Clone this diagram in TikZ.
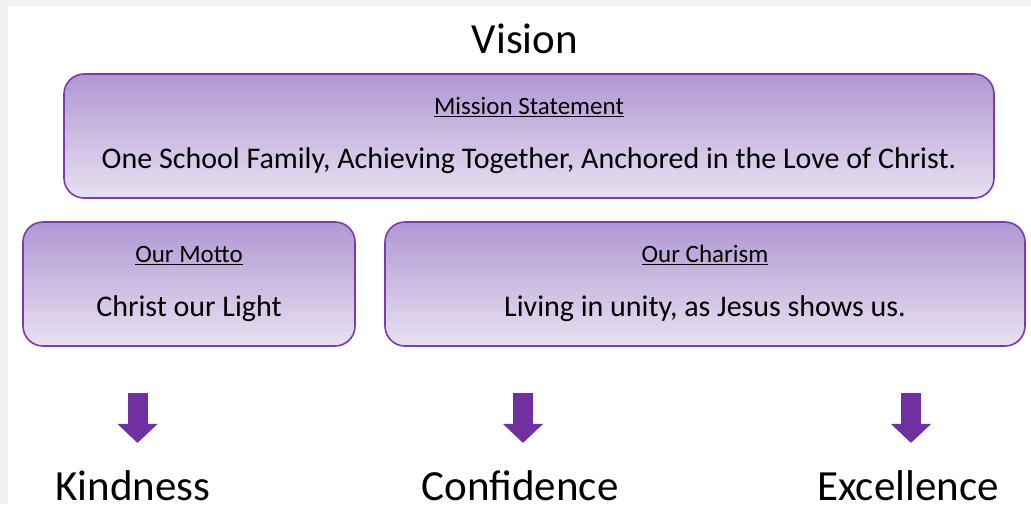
\documentclass[tikz,border=0pt]{standalone}
\usepackage{fontspec}
\setmainfont{Carlito}
\usepackage{xcolor}
\usetikzlibrary{arrows.meta, positioning, calc}

\definecolor{plum}{HTML}{7030A0}
\definecolor{plumline}{HTML}{7B3BAE}
\definecolor{liltop}{HTML}{B197D3}
\definecolor{lilbot}{HTML}{E8E1F1}
\definecolor{frame}{HTML}{F0F0F0}

\begin{document}
\begin{tikzpicture}[x=1pt, y=-1pt,
    panel/.style={rectangle, rounded corners=20pt, draw=plumline, line width=1.6pt,
        top color=liltop, bottom color=lilbot, minimum height=124pt, inner sep=0pt},
    heading/.style={font=\fontsize{25}{30}\selectfont, inner sep=0pt, anchor=base},
    body/.style={font=\fontsize{30}{36}\selectfont, inner sep=0pt, anchor=base},
    value/.style={font=\fontsize{43}{50}\selectfont, inner sep=0pt, anchor=base, text depth=0pt},
    blockarrow/.style={draw=plum, line width=20pt,
        -{Triangle[width=39pt, length=19pt]}, shorten >=27pt}]
    % page and frame
    \fill[frame] (0,0) rectangle (1031,504);
    \fill[white] (8,6) rectangle (1031,504);
    \useasboundingbox (0,0) rectangle (1031,504);

    \node[value] (vision) at (525,53) {Vision};

    % the three panels
    \node[panel, minimum width=930pt] (mission) at (529,136) {};
    \node[panel, minimum width=332pt] (motto) at (189,284) {};
    \node[panel, minimum width=640pt] (charism) at (705,284) {};

    \node[heading] (mission head) at ($(mission.north)+(0,41)$) {\underline{Mission Statement}};
    \node[body] (mission text) at ($(mission.north)+(0,95)$)
        {One School Family, Achieving Together, Anchored in the Love of Christ.};
    \node[heading] (motto head) at ($(motto.north)+(0,41)$) {\underline{Our Motto}};
    \node[body] (motto text) at ($(motto.north)+(0,95)$) {Christ our Light};
    \node[heading] (charism head) at ($(charism.north)+(0,41)$) {\underline{Our Charism}};
    \node[body] (charism text) at ($(charism.north)+(0,95)$) {Living in unity, as Jesus shows us.};

    % values
    \node[value] (kindness) at (133,500) {Kindness};
    \node[value] (confidence) at (520,500) {Confidence};
    \node[value] (excellence) at (908,500) {Excellence};

    \coordinate (kindness top) at (137.5,393);
    \coordinate (confidence top) at (523,393);
    \coordinate (excellence top) at (911,393);

    \draw[blockarrow] (kindness top) -- (kindness top |- kindness.north);
    \draw[blockarrow] (confidence top) -- (confidence top |- confidence.north);
    \draw[blockarrow] (excellence top) -- (excellence top |- excellence.north);
\end{tikzpicture}
\end{document}
